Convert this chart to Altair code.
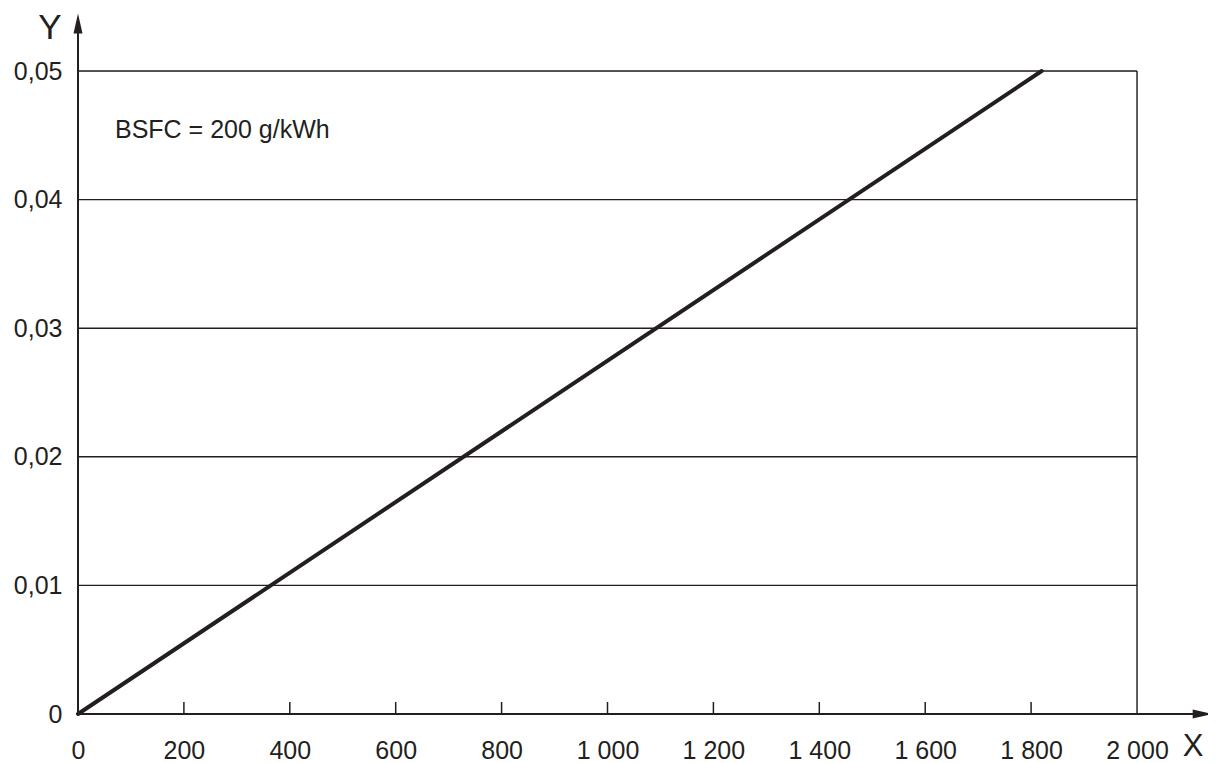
import altair as alt
import pandas as pd

# ---- data ----
line_x = [0, 1820]
line_y = [0.0, 0.05]
grid_y = [0.01, 0.02, 0.03, 0.04, 0.05]
x_ticks = [0, 200, 400, 600, 800, 1000, 1200, 1400, 1600, 1800, 2000]
inner_ticks = [200, 400, 600, 800, 1000, 1200, 1400, 1600, 1800]
y_ticks = [0, 0.01, 0.02, 0.03, 0.04, 0.05]
annotation = "BSFC = 200 g/kWh"

X_MAX = 2000
Y_MAX = 0.05
# axis arrow extents (beyond plot domain)
Y_ARROW_CENTER = 0.0537
X_ARROW_CENTER = 2124

W, H = 1059, 643
INK = "#231f20"
FONT = "Liberation Sans"
LABEL_SIZE = 25

xs = alt.Scale(domain=[0, X_MAX], nice=False, zero=False)
ys = alt.Scale(domain=[0, Y_MAX], nice=False, zero=False)

x_axis = alt.Axis(
    values=x_ticks, ticks=False, domain=False, grid=False, title=None,
    labelFontSize=LABEL_SIZE, labelFont=FONT, labelColor=INK, labelPadding=24,
    labelExpr="replace(format(datum.value, 'd'), /(\\d)(\\d{3})$/, '$1 $2')",
    labelFlush=False, labelOverlap=False,
)
y_axis = alt.Axis(
    values=y_ticks, ticks=False, domain=False, grid=False, title=None,
    labelFontSize=LABEL_SIZE, labelFont=FONT, labelColor=INK, labelPadding=16,
    labelExpr="datum.value == 0 ? '0' : replace(format(datum.value, '.2f'), '.', ',')",
    labelFlush=False, labelOverlap=False,
)

base = alt.Chart(pd.DataFrame({"x": [0]}))

# data line (carries the axes)
line = alt.Chart(pd.DataFrame({"x": line_x, "y": line_y})).mark_line(
    color=INK, strokeWidth=4, strokeCap="round"
).encode(
    x=alt.X("x:Q", scale=xs, axis=x_axis),
    y=alt.Y("y:Q", scale=ys, axis=y_axis),
)

# gridlines (horizontal)
grid = alt.Chart(pd.DataFrame({"y": grid_y})).mark_rule(color=INK, strokeWidth=1.4).encode(
    y=alt.Y("y:Q", scale=ys),
    x=alt.datum(0, scale=xs),
    x2=alt.datum(X_MAX),
)

# right border
right = base.mark_rule(color=INK, strokeWidth=1.4).encode(
    x=alt.datum(X_MAX, scale=xs), y=alt.datum(0, scale=ys), y2=alt.datum(Y_MAX)
)

# inward tick marks on x axis
ticks = alt.Chart(pd.DataFrame({"x": inner_ticks})).mark_rule(color=INK, strokeWidth=1.5).encode(
    x=alt.X("x:Q", scale=xs),
    y=alt.value(H),
    y2=alt.value(H - 12),
)

# axis lines extended with arrows
y_line = base.mark_rule(color=INK, strokeWidth=2).encode(
    x=alt.datum(0, scale=xs), y=alt.datum(0, scale=ys), y2=alt.datum(Y_ARROW_CENTER)
)
x_line = base.mark_rule(color=INK, strokeWidth=2).encode(
    y=alt.datum(0, scale=ys), x=alt.datum(0, scale=xs), x2=alt.datum(X_ARROW_CENTER)
)
y_arrow = base.mark_point(
    shape="M0,-1L0.45,1L-0.45,1Z", filled=True, color=INK, opacity=1, size=400
).encode(x=alt.datum(0, scale=xs), y=alt.datum(Y_ARROW_CENTER, scale=ys))
x_arrow = base.mark_point(
    shape="M1,0L-1,-0.45L-1,0.45Z", filled=True, color=INK, opacity=1, size=400
).encode(x=alt.datum(X_ARROW_CENTER, scale=xs), y=alt.datum(0, scale=ys))

# annotation
note = base.mark_text(
    text=annotation, align="left", baseline="middle", fontSize=LABEL_SIZE, font=FONT, color=INK
).encode(x=alt.value(37), y=alt.value(59))

# axis letters
y_label = base.mark_text(
    text="Y", align="center", baseline="middle", fontSize=35, font=FONT, color=INK
).encode(x=alt.value(-28), y=alt.value(-43))
x_label = base.mark_text(
    text="X", align="center", baseline="middle", fontSize=31, font=FONT, color=INK
).encode(x=alt.value(1115), y=alt.value(33 + H))

chart = alt.layer(
    grid, right, ticks, y_line, x_line, y_arrow, x_arrow, line, note, y_label, x_label
).properties(
    width=W, height=H,
    autosize=alt.AutoSizeParams(type="none"),
    padding={"left": 70, "top": 63, "right": 71, "bottom": 48},
).configure_view(stroke=None).configure(background="white")

chart.save("out.html", embed_options={"renderer": "svg", "actions": False})
